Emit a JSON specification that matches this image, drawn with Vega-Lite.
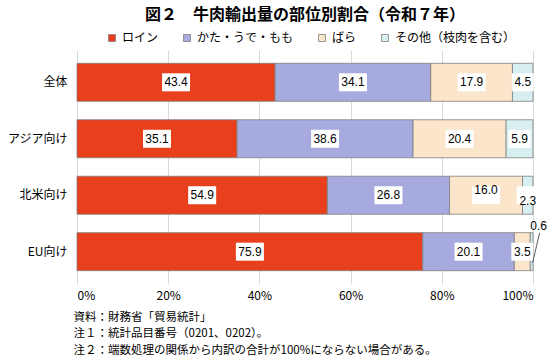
{
  "$schema": "https://vega.github.io/schema/vega-lite/v6.json",
  "width": 456,
  "height": 234,
  "autosize": {"type": "none"},
  "padding": {"left": 77, "top": 50, "right": 17, "bottom": 76},
  "background": "white",
  "config": {
    "font": "Noto Sans CJK JP",
    "view": {"stroke": null},
    "axis": {"labelFont": "Noto Sans CJK JP", "titleFont": "Noto Sans CJK JP", "labelColor": "#000", "titleColor": "#000"},
    "legend": {"labelFont": "Noto Sans CJK JP"}
  },
  "title": {
    "text": "図２　牛肉輸出量の部位別割合（令和７年）",
    "fontSize": 16,
    "fontWeight": "bold",
    "color": "#000",
    "anchor": "middle",
    "frame": "group",
    "offset": 9
  },
  "data": {
    "values": [
      {"region": "全体", "part": "ロイン", "value": 43.4},
      {"region": "全体", "part": "かた・うで・もも", "value": 34.1},
      {"region": "全体", "part": "ばら", "value": 17.9},
      {"region": "全体", "part": "その他（枝肉を含む）", "value": 4.5},
      {"region": "アジア向け", "part": "ロイン", "value": 35.1},
      {"region": "アジア向け", "part": "かた・うで・もも", "value": 38.6},
      {"region": "アジア向け", "part": "ばら", "value": 20.4},
      {"region": "アジア向け", "part": "その他（枝肉を含む）", "value": 5.9},
      {"region": "北米向け", "part": "ロイン", "value": 54.9},
      {"region": "北米向け", "part": "かた・うで・もも", "value": 26.8},
      {"region": "北米向け", "part": "ばら", "value": 16.0},
      {"region": "北米向け", "part": "その他（枝肉を含む）", "value": 2.3},
      {"region": "EU向け", "part": "ロイン", "value": 75.9},
      {"region": "EU向け", "part": "かた・うで・もも", "value": 20.1},
      {"region": "EU向け", "part": "ばら", "value": 3.5},
      {"region": "EU向け", "part": "その他（枝肉を含む）", "value": 0.6}
    ]
  },
  "transform": [
    {"calculate": "indexof(['ロイン','かた・うで・もも','ばら','その他（枝肉を含む）'], datum.part)", "as": "k"},
    {"stack": "value", "groupby": ["region"], "sort": [{"field": "k", "order": "ascending"}], "offset": "normalize", "as": ["x0", "x1"]},
    {"calculate": "(datum.x0 + datum.x1) / 2", "as": "mid"},
    {"calculate": "(datum.region == '北米向け' && datum.k == 2) ? 'up' : (datum.region == '北米向け' && datum.k == 3) ? 'down' : (datum.region == 'EU向け' && datum.k == 3) ? 'out' : 'normal'", "as": "lp"}
  ],
  "encoding": {
    "y": {
      "field": "region",
      "type": "nominal",
      "sort": ["全体", "アジア向け", "北米向け", "EU向け"],
      "scale": {"paddingInner": 0.327, "paddingOuter": 0.236},
      "axis": {"title": null, "domain": false, "ticks": false, "labelFontSize": 12, "labelPadding": 10}
    }
  },
  "layer": [
    {
      "mark": {"type": "bar", "stroke": "#7f7f7f", "strokeWidth": 0.8},
      "encoding": {
        "x": {
          "field": "x0",
          "type": "quantitative",
          "scale": {"domain": [0, 1], "nice": false},
          "axis": {
            "values": [0, 0.2, 0.4, 0.6, 0.8, 1],
            "format": ".0%",
            "domain": false,
            "ticks": false,
            "grid": true,
            "gridColor": "#d9d9d9",
            "gridWidth": 1,
            "labelFontSize": 12,
            "labelPadding": 6,
            "title": ["資料：財務省「貿易統計」", "注１：統計品目番号（0201、0202）。", "注２：端数処理の関係から内訳の合計が100%にならない場合がある。"],
            "titleFontSize": 11.5,
            "titleFontWeight": "normal",
            "titleAnchor": "start",
            "titleAlign": "left",
            "titleBaseline": "top",
            "titleX": -4,
            "titleY": 27,
            "titleLineHeight": 16.5
          }
        },
        "x2": {"field": "x1"},
        "color": {
          "field": "part",
          "type": "nominal",
          "sort": ["ロイン", "かた・うで・もも", "ばら", "その他（枝肉を含む）"],
          "scale": {
            "domain": ["ロイン", "かた・うで・もも", "ばら", "その他（枝肉を含む）"],
            "range": ["#e8401c", "#a7aade", "#fbe6cc", "#d8eff1"]
          },
          "legend": {
            "title": null,
            "orient": "none",
            "direction": "horizontal",
            "legendX": 29,
            "legendY": -18,
            "padding": 0,
            "symbolType": "square",
            "symbolSize": 49,
            "symbolStrokeColor": "#7f7f7f",
            "symbolStrokeWidth": 0.8,
            "labelFontSize": 12,
            "labelColor": "#000",
            "labelOffset": 4,
            "columnPadding": 22
          }
        }
      }
    },
    {
      "transform": [{"filter": "datum.lp != 'out'"}],
      "mark": {"type": "point", "filled": true, "fill": "white", "opacity": 1, "strokeWidth": 0},
      "encoding": {
        "x": {"field": "mid", "type": "quantitative"},
        "y": {"field": "region", "type": "nominal", "sort": ["全体", "アジア向け", "北米向け", "EU向け"], "bandPosition": 0.5},
        "shape": {
          "condition": {"test": "datum.value < 10", "value": "M-0.786,-0.643H0.786V0.643H-0.786Z"},
          "value": "M-1,-0.643H1V0.643H-1Z"
        },
        "size": {"value": 784}
      }
    },
    {
      "transform": [{"filter": "datum.lp == 'normal'"}],
      "mark": {"type": "text", "fontSize": 12, "color": "#000", "font": "Liberation Sans"},
      "encoding": {
        "x": {"field": "mid", "type": "quantitative"},
        "text": {"field": "value", "type": "quantitative", "format": ".1f"}
      }
    },
    {
      "transform": [{"filter": "datum.lp == 'up'"}],
      "mark": {"type": "text", "fontSize": 12, "color": "#000", "font": "Liberation Sans", "dy": -5},
      "encoding": {
        "x": {"field": "mid", "type": "quantitative"},
        "text": {"field": "value", "type": "quantitative", "format": ".1f"}
      }
    },
    {
      "transform": [{"filter": "datum.lp == 'down'"}],
      "mark": {"type": "text", "fontSize": 12, "color": "#000", "font": "Liberation Sans", "dy": 6},
      "encoding": {
        "x": {"field": "mid", "type": "quantitative"},
        "text": {"field": "value", "type": "quantitative", "format": ".1f"}
      }
    },
    {
      "transform": [{"filter": "datum.lp == 'out'"}],
      "mark": {"type": "text", "fontSize": 12, "color": "#000", "font": "Liberation Sans", "dx": 7, "dy": -26},
      "encoding": {
        "x": {"field": "mid", "type": "quantitative"},
        "text": {"field": "value", "type": "quantitative", "format": ".1f"}
      }
    },
    {
      "transform": [{"filter": "datum.lp == 'out'"}],
      "mark": {"type": "rule", "color": "#333", "strokeWidth": 0.8, "xOffset": 1, "x2Offset": 8, "yOffset": 11, "y2Offset": -19},
      "encoding": {
        "x": {"field": "mid", "type": "quantitative"},
        "x2": {"field": "mid"},
        "y": {"field": "region", "type": "nominal", "sort": ["全体", "アジア向け", "北米向け", "EU向け"], "bandPosition": 0.5},
        "y2": {"field": "region", "bandPosition": 0.5}
      }
    }
  ]
}
